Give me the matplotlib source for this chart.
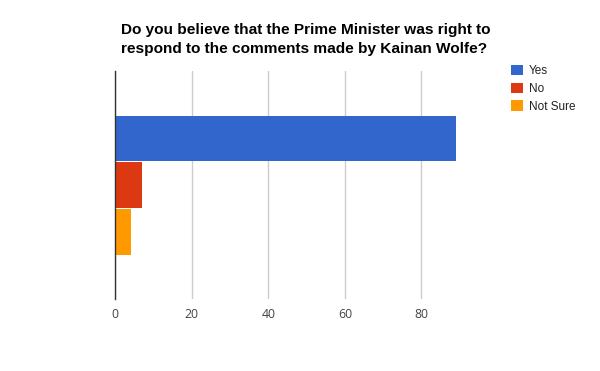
import matplotlib
matplotlib.use("Agg")
import matplotlib.pyplot as plt
import numpy as np

plt.rcParams['font.family'] = ['Liberation Sans', 'DejaVu Sans']

# survey results
answers = ['Yes', 'No', 'Not Sure']
votes = [89, 7, 4]
colors = ['#3366cc', '#dc3912', '#ff9900']
x_ticks = [0, 20, 40, 60, 80]
title = ('Do you believe that the Prime Minister was right to\n'
         'respond to the comments made by Kainan Wolfe?')

fig = plt.figure(figsize=(6, 3.71), dpi=100)
ax = fig.add_axes([0.1922, 0.1933, 0.6375, 0.6153])

bar_h = 0.2
step = 0.205
offsets = (np.arange(len(answers)) - 1) * step
handles = []
for off, v, c, lab in zip(offsets, votes, colors, answers):
    h = ax.barh(off, v, height=bar_h, color=c, label=lab, zorder=3)
    handles.append(h)

ax.set_ylim(0.5, -0.5)
ax.set_xlim(0, 100)
ax.set_xticks(x_ticks)
ax.set_yticks([])
ax.grid(axis='x', color='#cccccc', linewidth=1, zorder=0)
for s in ['top', 'right', 'bottom']:
    ax.spines[s].set_visible(False)
ax.spines['left'].set_color('#333333')
ax.spines['left'].set_linewidth(1)
ax.spines['left'].set_zorder(4)
ax.tick_params(axis='x', length=0, labelsize=8.8, labelcolor='#444444', pad=6)
for lbl in ax.get_xticklabels():
    lbl.set_family(['Open Sans', 'DejaVu Sans'])

fig.text(0.202, 0.937, title, fontsize=11.1, fontweight='bold', color='black',
         ha='left', va='top', linespacing=1.4)

leg = fig.legend(handles=handles, loc='upper left', bbox_to_anchor=(0.852, 0.825),
                 frameon=False, fontsize=8.5, handlelength=1.0, handleheight=1.0,
                 handletextpad=0.5, labelspacing=0.45, borderpad=0, borderaxespad=0)
for t in leg.get_texts():
    t.set_color('#222222')

fig.savefig('out.png', dpi=100)
